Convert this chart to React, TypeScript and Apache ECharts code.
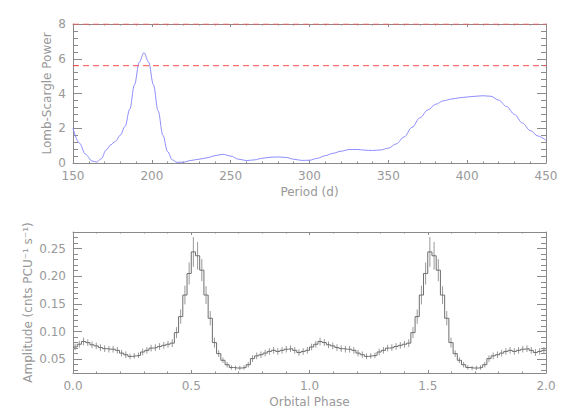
import React, { useEffect, useRef } from 'react';
import * as echarts from 'echarts';

// ---- Top panel: Lomb-Scargle periodogram ----
const periods = [150,154,158,162,165,168,171,174,177,180,183,186,189,192,195,198,201,204,207,210,213,216,220,225,230,235,240,245,250,255,260,265,270,275,280,285,290,295,300,305,310,315,320,325,330,335,340,345,350,355,360,365,370,375,380,385,390,395,400,405,410,415,420,425,430,435,440,445,450];
const power = [2.0,1.15,0.5,0.12,0.05,0.25,0.75,1.05,1.25,1.6,2.1,3.1,4.5,5.8,6.35,5.8,4.5,3.0,1.6,0.65,0.18,0.04,0.05,0.15,0.22,0.3,0.42,0.5,0.4,0.22,0.14,0.18,0.27,0.33,0.35,0.32,0.22,0.15,0.16,0.27,0.42,0.56,0.68,0.77,0.78,0.74,0.72,0.75,0.85,1.1,1.5,2.05,2.6,3.05,3.38,3.58,3.68,3.75,3.8,3.84,3.87,3.84,3.62,3.25,2.8,2.3,1.87,1.55,1.3];
const thresholds = [8.0, 5.6];

// ---- Bottom panel: folded light curve (one cycle, plotted twice) ----
const phaseValues = [
  0.072,0.077,0.082,0.080,0.076,0.074,0.071,0.069,0.068,0.068,
  0.066,0.061,0.058,0.055,0.056,0.057,0.063,0.066,0.070,0.071,
  0.073,0.075,0.077,0.079,0.098,0.127,0.166,0.205,0.244,0.237,
  0.211,0.166,0.124,0.080,0.060,0.048,0.040,0.035,0.034,0.034,
  0.035,0.040,0.051,0.056,0.058,0.061,0.064,0.066,0.064,0.066,
  0.068,0.069,0.066,0.062,0.064,0.066,
];
const phaseErrors = [
  0.006,0.006,0.007,0.006,0.006,0.006,0.006,0.006,0.006,0.006,
  0.006,0.006,0.006,0.005,0.005,0.005,0.006,0.006,0.006,0.006,
  0.006,0.006,0.006,0.007,0.010,0.013,0.017,0.020,0.027,0.025,
  0.020,0.016,0.013,0.009,0.006,0.005,0.005,0.004,0.004,0.004,
  0.004,0.005,0.006,0.006,0.006,0.006,0.006,0.006,0.006,0.006,
  0.006,0.006,0.006,0.006,0.006,0.006,
];
const cycles = [0, 1];

const axisColor = '#8a8a8a';
const textColor = '#999999';
const font = 'DejaVu Sans';

export default function App() {
  const ref = useRef<HTMLDivElement>(null);
  useEffect(() => {
    if (!ref.current) return;
    const chart = echarts.init(ref.current, null, { renderer: 'svg' });

    const binWidth = 1 / phaseValues.length;
    const stepData: number[][] = [];
    const errData: number[][] = [];
    cycles.forEach((c) => {
      phaseValues.forEach((v, k) => {
        stepData.push([c + k * binWidth, v]);
        errData.push([c + (k + 0.5) * binWidth, v, phaseErrors[k]]);
      });
    });
    stepData.push([cycles.length, phaseValues[phaseValues.length - 1]]);

    const pMin = periods[0];
    const pMax = periods[periods.length - 1];

    const axisLine = { show: true, onZero: false, lineStyle: { color: axisColor, width: 1 } };
    const label = { color: textColor, fontFamily: font, fontSize: 12 };
    const nameStyle = { color: textColor, fontFamily: font, fontSize: 12 };
    const xTick = { show: true, inside: true, length: 3, lineStyle: { color: axisColor } };
    const xMinor = { show: true, splitNumber: 5, length: 1.5, lineStyle: { color: axisColor } };
    const yTick = { show: true, inside: true, length: 9, lineStyle: { color: axisColor } };
    const yMinor = { show: true, splitNumber: 5, length: 5, lineStyle: { color: axisColor } };

    const is005 = (v: number) => Math.abs(v / 0.05 - Math.round(v / 0.05)) < 1e-6;

    chart.setOption({
      animation: false,
      backgroundColor: '#ffffff',
      grid: [
        { left: 73, right: 22, top: 24, height: 139 },
        { left: 73, right: 22, top: 232, height: 141 },
      ],
      xAxis: [
        {
          gridIndex: 0, type: 'value', min: 150, max: 450, interval: 50, position: 'bottom',
          axisLine, axisTick: xTick, minorTick: xMinor, splitLine: { show: false },
          axisLabel: { ...label, margin: 7 },
          name: 'Period (d)', nameLocation: 'middle', nameGap: 23, nameMoveOverlap: false,
          nameTextStyle: nameStyle,
        },
        {
          gridIndex: 0, type: 'value', min: 150, max: 450, interval: 50, position: 'top',
          axisLine, axisTick: xTick, minorTick: xMinor, splitLine: { show: false },
          axisLabel: { show: false },
        },
        {
          gridIndex: 1, type: 'value', min: 0, max: 2, interval: 0.5, position: 'bottom',
          axisLine, axisTick: xTick, minorTick: xMinor, splitLine: { show: false },
          axisLabel: { ...label, margin: 7, formatter: (v: number) => v.toFixed(1) },
          name: 'Orbital Phase', nameLocation: 'middle', nameGap: 23, nameMoveOverlap: false,
          nameTextStyle: nameStyle,
        },
        {
          gridIndex: 1, type: 'value', min: 0, max: 2, interval: 0.5, position: 'top',
          axisLine, axisTick: xTick, minorTick: xMinor, splitLine: { show: false },
          axisLabel: { show: false },
        },
      ],
      yAxis: [
        {
          gridIndex: 0, type: 'value', min: 0, max: 8, interval: 2, position: 'left',
          axisLine, axisTick: yTick, minorTick: yMinor, splitLine: { show: false },
          axisLabel: { ...label, margin: 7 },
          name: 'Lomb-Scargle Power', nameLocation: 'middle', nameGap: 20, nameMoveOverlap: false,
          nameTextStyle: nameStyle,
        },
        {
          gridIndex: 0, type: 'value', min: 0, max: 8, interval: 2, position: 'right',
          axisLine, axisTick: yTick, minorTick: yMinor, splitLine: { show: false },
          axisLabel: { show: false },
        },
        {
          gridIndex: 1, type: 'value', min: 0.025, max: 0.28, splitNumber: 5, position: 'left',
          axisLine, axisTick: yTick, minorTick: yMinor, splitLine: { show: false },
          axisLabel: { ...label, margin: 7, formatter: (v: number) => (is005(v) ? v.toFixed(2) : '') },
          name: 'Amplitude (cnts PCU\u207B\u00B9 s\u207B\u00B9)', nameLocation: 'middle', nameGap: 39,
          nameMoveOverlap: false, nameTextStyle: nameStyle,
        },
        {
          gridIndex: 1, type: 'value', min: 0.025, max: 0.28, splitNumber: 5, position: 'right',
          axisLine, axisTick: yTick, minorTick: yMinor, splitLine: { show: false },
          axisLabel: { show: false },
        },
      ],
      series: [
        ...thresholds.map((t) => ({
          type: 'line', xAxisIndex: 0, yAxisIndex: 0, z: 4,
          data: [[pMin, t], [pMax, t]],
          showSymbol: false, silent: true,
          lineStyle: { color: '#ff5050', width: 1, type: [6, 4] },
        })),
        {
          type: 'line', xAxisIndex: 0, yAxisIndex: 0, z: 3,
          data: periods.map((p, i) => [p, power[i]]),
          showSymbol: false, smooth: 0.35, smoothMonotone: 'x',
          lineStyle: { color: '#8c8cff', width: 1 },
        },
        {
          type: 'line', xAxisIndex: 2, yAxisIndex: 2, step: 'end',
          data: stepData, showSymbol: false,
          lineStyle: { color: '#6e6e6e', width: 1 },
        },
        {
          type: 'custom', xAxisIndex: 2, yAxisIndex: 2,
          data: errData,
          renderItem: (params: any, api: any) => {
            const x = api.value(0);
            const y = api.value(1);
            const e = api.value(2);
            const p1 = api.coord([x, y - e]);
            const p2 = api.coord([x, y + e]);
            return {
              type: 'line',
              shape: { x1: p1[0], y1: p1[1], x2: p2[0], y2: p2[1] },
              style: { stroke: '#999999', lineWidth: 1 },
            };
          },
        },
      ],
    });
    return () => chart.dispose();
  }, []);
  return (
    <div
      ref={ref}
      style={{ position: 'absolute', left: 0, top: 0, width: 568, height: 419 }}
    />
  );
}
